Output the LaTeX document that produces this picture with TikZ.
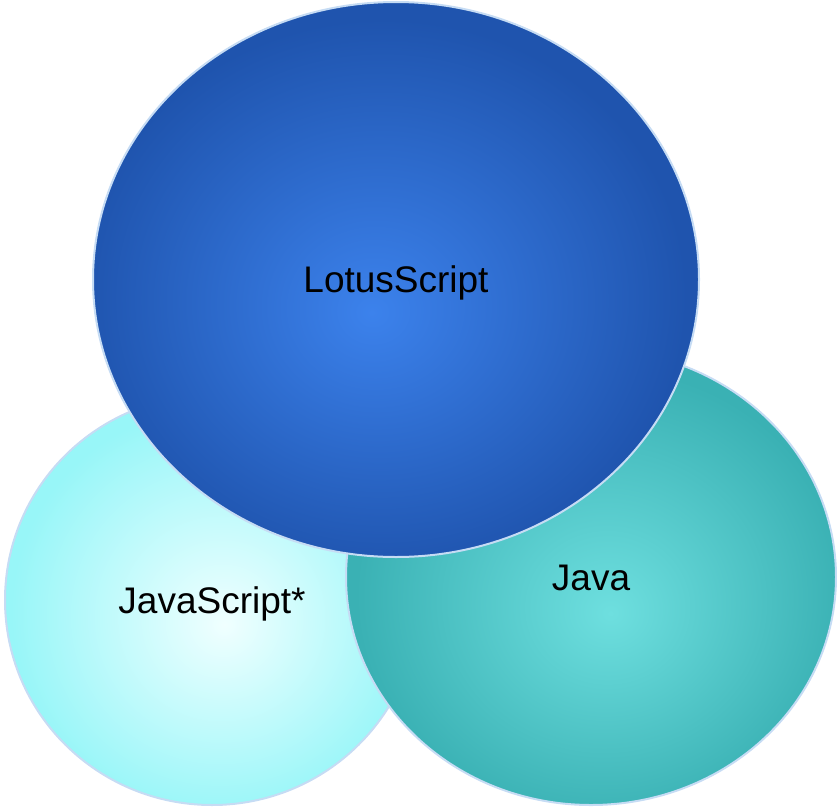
\documentclass[tikz,border=0pt]{standalone}
\usepackage{fontspec}
\setmainfont{Liberation Sans}
\usetikzlibrary{shapes.geometric}

% fill colours of the three sets
\definecolor{lotusin}{HTML}{3C82EC}
\definecolor{lotusout}{HTML}{1F54AE}
\definecolor{jsin}{HTML}{F0FFFF}
\definecolor{jsout}{HTML}{98F6F8}
\definecolor{javain}{HTML}{6EDFDF}
\definecolor{javaout}{HTML}{3AB1B4}
\definecolor{rim}{HTML}{C6DCF4}

% radial glows, centres nudged off the middle
\pgfdeclareradialshading{lotusglow}{\pgfpoint{-2bp}{-3bp}}{color(0bp)=(lotusin); color(25bp)=(lotusout); color(50bp)=(lotusout)}
\pgfdeclareradialshading{jsglow}{\pgfpoint{1.5bp}{-3bp}}{color(0bp)=(jsin); color(25bp)=(jsout); color(50bp)=(jsout)}
\pgfdeclareradialshading{javaglow}{\pgfpoint{2bp}{-4bp}}{color(0bp)=(javain); color(25bp)=(javaout); color(50bp)=(javaout)}

\tikzset{
  venn/.style={ellipse, draw=rim, line width=2pt, inner sep=0pt, outer sep=0pt,
    font=\fontsize{37}{40}\selectfont, text=black,
    text height=26.5pt, text depth=0pt}
}

\begin{document}
\begin{tikzpicture}[x=1pt, y=-1pt]
  \useasboundingbox (0,0) rectangle (837,808);
  \node[venn, shading=jsglow, minimum width=414pt, minimum height=410pt]
    (js) at (212,600) {JavaScript*};
  \node[venn, shading=javaglow, minimum width=490pt, minimum height=456pt]
    (java) at (591,577) {Java};
  \node[venn, shading=lotusglow, minimum width=606pt, minimum height=555pt]
    (lotus) at (396,279.5) {LotusScript};
\end{tikzpicture}
\end{document}
